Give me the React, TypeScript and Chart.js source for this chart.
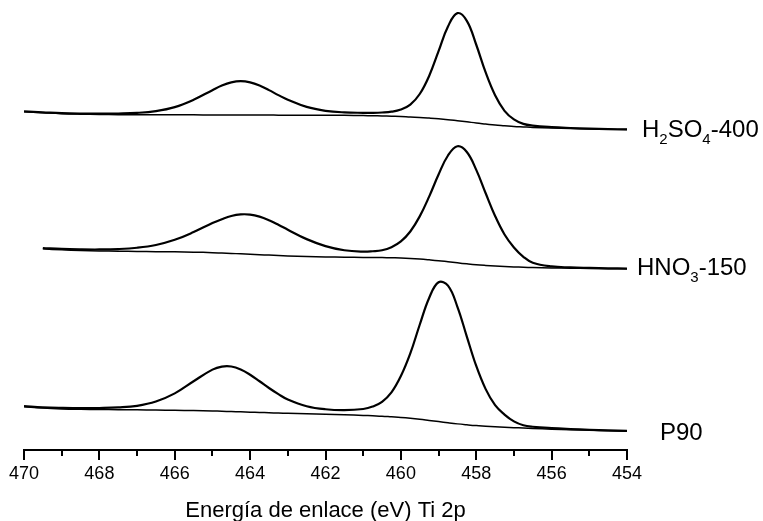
import React, { useEffect, useRef } from "react";
import { Chart, registerables } from "chart.js";

Chart.register(...registerables);

// Binding energy (eV), shared by all spectra
const energy = [
  470, 469.5, 469, 468.5, 468, 467.5, 467, 466.5, 466, 465.5,
  465, 464.75, 464.5, 464.25, 464, 463.75, 463.5, 463.25, 463, 462.5,
  462, 461.5, 461, 460.75, 460.5, 460.25, 460, 459.75, 459.5, 459.25, 459, 458.75,
  458.5, 458.25, 458, 457.75, 457.5, 457.25, 457, 456.75, 456.5, 456,
  455.5, 455, 454.5, 454,
];

// Intensity (a.u., stacked) — H2SO4-400
const h2so4Envelope = [
  340.9, 340.0, 339.1, 338.7, 338.6, 338.8, 339.4, 341.2, 345.2, 352.6,
  362.3, 366.9, 370.1, 371.3, 370.1, 366.9, 362.3, 357.3, 352.7, 345.4,
  341.5, 339.9, 339.5, 339.5, 339.8, 340.6, 342.8, 347.7, 358.4, 376.6, 401.6, 426.4,
  439.8, 432.1, 408.0, 380.1, 357.2, 341.5, 332.8, 328.3, 326.6, 325.1,
  324.2, 323.5, 323.1, 322.8,
];
const h2so4Baseline = [
  340.5, 339.5, 338.6, 338.1, 337.8, 337.6, 337.5, 337.5, 337.4, 337.4,
  337.3, 337.3, 337.3, 337.2, 337.2, 337.2, 337.2, 337.1, 337.1, 337.1,
  337.0, 336.9, 336.7, 336.5, 336.3, 336.0, 335.7, 335.2, 334.8, 334.2, 333.5, 332.6,
  331.5, 330.4, 329.2, 328.2, 327.2, 326.5, 325.8, 325.3, 324.8, 324.1,
  323.6, 323.2, 322.9, 322.7,
];

// HNO3-150
const hno3Envelope = [
  null, 203.3, 202.4, 202.0, 201.9, 202.3, 203.6, 206.4, 211.6, 219.4,
  228.5, 232.4, 235.6, 237.2, 237.0, 235.0, 231.4, 226.8, 221.8, 212.3,
  205.3, 201.1, 199.7, 200.1, 201.1, 204.2, 210.0, 220.0, 235.2, 255.1, 277.4, 296.5,
  305.8, 300.0, 282.0, 258.5, 235.6, 217.0, 203.9, 194.5, 188.5, 184.8,
  183.8, 183.3, 182.9, 182.7,
];
const hno3Baseline = [
  null, 202.5, 201.5, 200.8, 200.4, 200.1, 199.9, 199.7, 199.5, 199.2,
  198.7, 198.3, 197.9, 197.5, 197.0, 196.6, 196.2, 195.8, 195.4, 194.8,
  194.4, 194.1, 193.9, 193.8, 193.7, 193.5, 193.3, 192.9, 192.3, 191.5, 190.6, 189.5,
  188.4, 187.4, 186.5, 185.8, 185.2, 184.7, 184.3, 184.0, 183.7, 183.3,
  183.0, 182.8, 182.6, 182.5,
];

// P90
const p90Envelope = [
  44.2, 43.0, 42.4, 42.1, 42.3, 42.9, 44.5, 48.8, 57.0, 69.2,
  80.9, 84.0, 84.1, 81.1, 75.8, 69.2, 62.4, 56.2, 50.8, 44.1,
  41.0, 40.1, 41.3, 43.7, 48.5, 58.0, 74.4, 97.2, 126.1, 153.1, 168.9, 165.5,
  144.2, 114.2, 84.6, 61.3, 45.1, 35.7, 28.8, 24.9, 23.4, 22.0,
  21.1, 20.4, 19.8, 19.3,
];
const p90Baseline = [
  43.5, 42.2, 41.4, 41.0, 40.8, 40.6, 40.4, 40.2, 40.0, 39.7,
  39.3, 39.0, 38.7, 38.4, 38.1, 37.8, 37.5, 37.2, 36.9, 36.4,
  35.9, 35.4, 34.8, 34.4, 34.0, 33.4, 32.8, 32.0, 31.0, 29.8, 28.6, 27.4,
  26.3, 25.4, 24.6, 24.0, 23.4, 22.9, 22.5, 22.1, 21.7, 21.0,
  20.4, 19.9, 19.4, 19.0,
];

// Sample labels: [text, isSubscript]
const labelH2SO4: [string, boolean][] = [["H", false], ["2", true], ["SO", false], ["4", true], ["-400", false]];
const labelHNO3: [string, boolean][] = [["H", false], ["NO", false], ["3", true], ["-150", false]];
const labelP90: [string, boolean][] = [["P90", false]];

const xMin = 454;
const xMax = 470;
const majorStep = 2;
const minorTicks = [455, 457, 459, 461, 463, 465, 467, 469];
const xTitle = "Energía de enlace (eV) Ti 2p";

const FONT = "'Liberation Sans', Arial, Helvetica, sans-serif";

const toPoints = (vals: (number | null)[]) => energy.map((e, i) => ({ x: e, y: vals[i] }));

const lastValue = (vals: (number | null)[]) => {
  for (let i = vals.length - 1; i >= 0; i--) if (vals[i] != null) return vals[i] as number;
  return 0;
};

export default function App() {
  const canvasRef = useRef<HTMLCanvasElement | null>(null);

  useEffect(() => {
    const canvas = canvasRef.current;
    if (!canvas) return;
    Chart.defaults.color = "#000";

    const labelSets = [
      { parts: labelH2SO4, series: h2so4Envelope, dx: 15, dy: -1 },
      { parts: labelHNO3, series: hno3Envelope, dx: 10, dy: -2 },
      { parts: labelP90, series: p90Envelope, dx: 33, dy: 1 },
    ];

    const decor = {
      id: "decor",
      afterDraw(chart: any) {
        const { ctx, chartArea, scales } = chart;
        const xs = scales.x;
        const ys = scales.y;
        ctx.save();
        ctx.strokeStyle = "#000";
        ctx.lineWidth = 2;
        minorTicks.forEach((v) => {
          const px = Math.round(xs.getPixelForValue(v));
          ctx.beginPath();
          ctx.moveTo(px, chartArea.bottom);
          ctx.lineTo(px, chartArea.bottom + 6);
          ctx.stroke();
        });
        ctx.fillStyle = "#000";
        ctx.textBaseline = "alphabetic";
        ctx.textAlign = "left";
        labelSets.forEach((ls) => {
          const yc = ys.getPixelForValue(lastValue(ls.series)) + ls.dy;
          let x = chartArea.right + ls.dx;
          ls.parts.forEach(([t, sub]) => {
            ctx.font = sub ? `15px ${FONT}` : `24px ${FONT}`;
            ctx.fillText(t, x, yc + 8.6 + (sub ? 7 : 0));
            x += ctx.measureText(t).width;
          });
        });
        ctx.restore();
      },
    };

    const line = (data: (number | null)[], width: number) => ({
      data: toPoints(data),
      borderColor: "#000",
      borderWidth: width,
      pointRadius: 0,
      fill: false,
      tension: 0.4,
      spanGaps: false,
    });

    const chart = new Chart(canvas, {
      type: "line",
      data: {
        datasets: [
          line(h2so4Baseline, 1.5),
          line(h2so4Envelope, 2.2),
          line(hno3Baseline, 1.5),
          line(hno3Envelope, 2.2),
          line(p90Baseline, 1.5),
          line(p90Envelope, 2.2),
        ] as any,
      },
      options: {
        responsive: false,
        animation: false,
        layout: { padding: { left: 24, right: 136, top: 8, bottom: 0 } },
        plugins: { legend: { display: false }, tooltip: { enabled: false } },
        scales: {
          x: {
            type: "linear",
            reverse: true,
            min: xMin,
            max: xMax,
            border: { display: true, color: "#000", width: 2 },
            grid: { display: true, drawOnChartArea: false, drawTicks: true, tickLength: 10, color: "#000", lineWidth: 2 },
            ticks: { stepSize: majorStep, color: "#000", font: { size: 18, family: FONT }, padding: 3, maxRotation: 0, autoSkip: false },
            title: { display: true, text: xTitle, color: "#000", font: { size: 22, family: FONT }, padding: { top: 10, bottom: 0 } },
          },
          y: { display: false, min: 0, max: 445 },
        },
      },
      plugins: [decor],
    });
    return () => chart.destroy();
  }, []);

  return (
    <div style={{ position: "fixed", left: 0, top: 0, width: 763, height: 524, overflow: "hidden", background: "#fff" }}>
      <canvas ref={canvasRef} width={763} height={524} style={{ display: "block" }} />
    </div>
  );
}
